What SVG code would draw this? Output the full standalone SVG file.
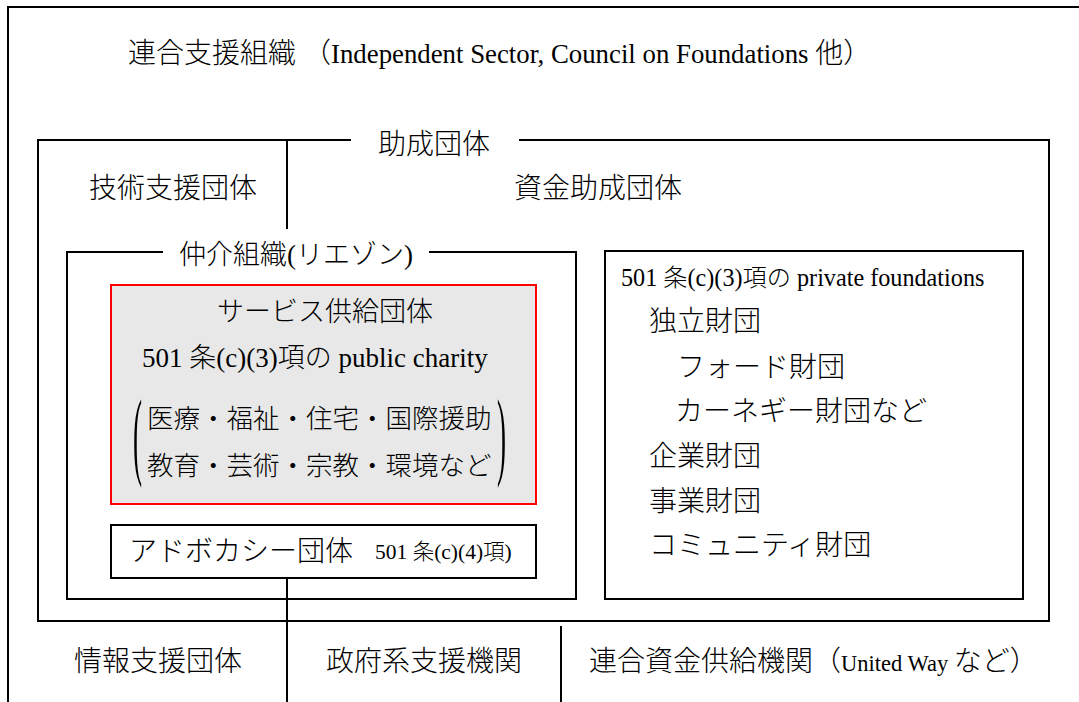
<svg xmlns="http://www.w3.org/2000/svg" width="1079" height="702" viewBox="0 0 1079 702">
<style>
  .t { font-family: "Liberation Serif", "Noto Sans CJK JP", serif; font-weight: 300; fill: #000; }
  .ln { fill: none; stroke: #000; stroke-width: 2; }
  .box { fill: #fff; stroke: #000; stroke-width: 2; }
  .svc { fill: #e8e8e8; stroke: #ff0000; stroke-width: 2; }
</style>
<rect x="0" y="0" width="1079" height="702" fill="#fff"/>

<g id="federation">
  <path class="ln" d="M8 702 V7 H1079"/>
  <text class="t" x="128" y="63" font-size="28">連合支援組織 （<tspan font-size="26.8">Independent Sector, Council on Foundations </tspan>他）</text>
</g>

<g id="grant-orgs">
  <path class="ln" d="M351 140 H38 V621 H1049 V140 H519"/>
  <text class="t" x="378" y="154" font-size="28">助成団体</text>
</g>

<g id="tech-support">
  <text class="t" x="89" y="198" font-size="28">技術支援団体</text>
</g>

<g id="fund-grant">
  <text class="t" x="514" y="198" font-size="28">資金助成団体</text>
</g>

<g id="intermediary">
  <path class="ln" d="M163 252 H67 V599 H576 V252 H429"/>
  <text class="t" x="179" y="264" font-size="27">仲介組織(リエゾン)</text>
</g>

<g id="service-providers">
  <rect class="svc" x="111" y="285" width="425" height="219"/>
  <text class="t" x="325" y="321" font-size="27" text-anchor="middle">サービス供給団体</text>
  <text class="t" x="142" y="367" font-size="27">501 条(c)(3)項の public charity</text>
  <text class="t" x="147" y="428" font-size="26.5">医療・福祉・住宅・国際援助</text>
  <text class="t" x="147" y="475" font-size="26.5">教育・芸術・宗教・環境など</text>
  <text class="t" font-size="97" transform="translate(133,467) scale(0.28,1)">(</text>
  <text class="t" font-size="97" transform="translate(497,467) scale(0.28,1)">)</text>
</g>

<g id="advocacy">
  <rect class="box" x="111" y="525" width="425" height="53"/>
  <text class="t" x="129" y="561" font-size="28">アドボカシー団体</text>
  <text class="t" x="375" y="559" font-size="21.5">501 条(c)(4)項)</text>
</g>

<g id="private-foundations">
  <rect class="box" x="605" y="251" width="418" height="348"/>
  <text class="t" x="621" y="286" font-size="24.2">501 条(c)(3)項の private foundations</text>
  <text class="t" x="649" y="331" font-size="28">独立財団</text>
  <text class="t" x="677" y="377" font-size="28">フォード財団</text>
  <text class="t" x="675" y="421" font-size="28">カーネギー財団など</text>
  <text class="t" x="649" y="466" font-size="28">企業財団</text>
  <text class="t" x="649" y="511" font-size="28">事業財団</text>
  <text class="t" x="649" y="555" font-size="28">コミュニティ財団</text>
</g>

<g id="info-support">
  <text class="t" x="74" y="671" font-size="28">情報支援団体</text>
</g>

<g id="gov-support">
  <text class="t" x="326" y="671" font-size="28">政府系支援機関</text>
</g>

<g id="united-funds">
  <text class="t" x="589" y="671" font-size="28">連合資金供給機関（<tspan font-size="22.5">United Way </tspan>など）</text>
</g>

<g id="connectors">
  <line class="ln" x1="287" y1="140" x2="287" y2="229"/>
  <line class="ln" x1="287" y1="578" x2="287" y2="702"/>
  <line class="ln" x1="561" y1="626" x2="561" y2="702"/>
</g>
</svg>
